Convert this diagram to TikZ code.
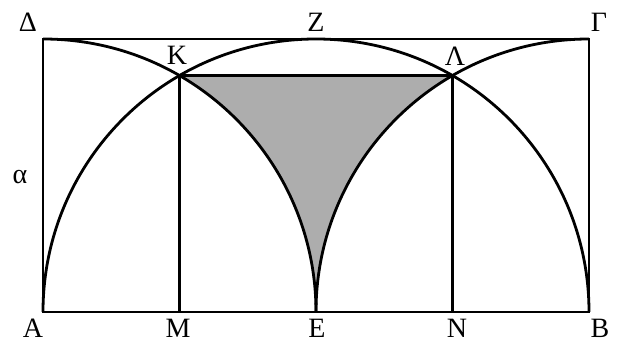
\documentclass[tikz,border=0pt]{standalone}
\usepackage{fontspec}
\setmainfont{Liberation Serif}
\usetikzlibrary{positioning}
\def\ra{273pt}

\begin{document}
\begin{tikzpicture}[x=1pt, y=1pt,
    edge/.style={line width=2.8pt, black},
    shade/.style={fill=black!32},
    lbl/.style={font=\fontsize{28}{28}\selectfont, inner sep=0pt}
  ]
  \useasboundingbox (-43,-30) rectangle (575,312);

  \coordinate (A) at (0,0);
  \coordinate (M) at (0.5*\ra,0);
  \coordinate (E) at (\ra,0);
  \coordinate (N) at (1.5*\ra,0);
  \coordinate (B) at (2*\ra,0);
  \coordinate (D) at (0,\ra);
  \coordinate (Z) at (\ra,\ra);
  \coordinate (G) at (2*\ra,\ra);
  \coordinate (K) at (0.5*\ra,0.8660*\ra);
  \coordinate (L) at (1.5*\ra,0.8660*\ra);

  \fill[shade] (K) -- (L) arc[start angle=120, end angle=180, radius=\ra]
               arc[start angle=0, end angle=60, radius=\ra] -- cycle;

  \draw[edge] (A) rectangle (G);
  \draw[edge] (A) arc[start angle=180, end angle=0, radius=\ra];
  \draw[edge] (E) arc[start angle=0, end angle=90, radius=\ra];
  \draw[edge] (E) arc[start angle=180, end angle=90, radius=\ra];
  \draw[edge] (K) -- (L);
  \draw[edge] (K) -- (M);
  \draw[edge] (L) -- (N);

  \node[lbl] (tD) at (-15,290) {Δ};
  \node[lbl] (tZ) at (273,290) {Ζ};
  \node[lbl] (tG) at (556,290) {Γ};
  \node[lbl] (tK) at (134,257) {Κ};
  \node[lbl] (tL) at (412,256) {Λ};
  \node[lbl] (ta) at (-23,135) {α};
  \node[lbl] (tA) at (-10,-16) {Α};
  \node[lbl] (tM) at (135,-16) {Μ};
  \node[lbl] (tE) at (274,-16) {Ε};
  \node[lbl] (tN) at (414,-16) {Ν};
  \node[lbl] (tB) at (557,-16) {Β};
\end{tikzpicture}
\end{document}
